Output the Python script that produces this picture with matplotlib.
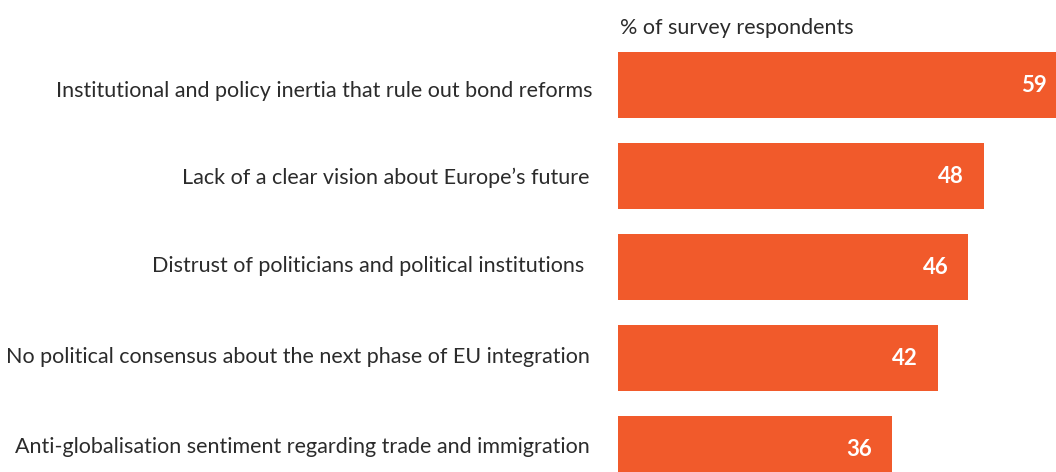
import matplotlib
matplotlib.use("Agg")
import matplotlib.pyplot as plt
from matplotlib.transforms import offset_copy

categories = [
    "Institutional and policy inertia that rule out bond reforms",
    "Lack of a clear vision about Europe\u2019s future",
    "Distrust of politicians and political institutions ",
    "No political consensus about the next phase of EU integration",
    "Anti-globalisation sentiment regarding trade and immigration",
]
values = [59, 48, 46, 42, 36]
title = "% of survey respondents"

BAR = "#F15A2B"
TEXT = "#2b2b2b"
FONT = ["Lato", "DejaVu Sans"]

W, H, DPI = 1056, 472, 100
fig = plt.figure(figsize=(W / DPI, H / DPI), dpi=DPI)

# axes in pixel terms: bars start at x=618, 7.615 px per percentage point
px_per_unit = 7.615
x0 = 618
ax_w = max(values) * px_per_unit
step = 91.0
bar_h = 66.0
top = 52.0
n = len(values)
ax_h = step * (n - 1) + bar_h
ax = fig.add_axes([x0 / W, (H - top - ax_h) / H, ax_w / W, ax_h / H])

pos = list(range(n))
ax.barh(pos, values, height=bar_h / step, color=BAR, edgecolor="none")
half = (bar_h / step) / 2
ax.set_xlim(0, max(values))
ax.set_ylim(n - 1 + half, -half)
ax.axis("off")

# per-row label placement (pixels): baseline drop below bar centre, gap to bar
label_drop = [11.7, 8.5, 4.7, 4.5, 4.2]
label_gap = [25, 29, 28, 28, 28]

pt_per_px = 72.0 / DPI
for p, v, c, d, g in zip(pos, values, categories, label_drop, label_gap):
    tv = offset_copy(ax.transData, fig=fig, x=-20 * pt_per_px,
                     y=-7 * pt_per_px, units="points")
    ax.text(v, p, str(v), ha="right", va="baseline", color="white",
            fontsize=16, fontweight="bold", family=FONT, transform=tv)
    tl = offset_copy(ax.transData, fig=fig, x=-g * pt_per_px,
                     y=-d * pt_per_px, units="points")
    ax.text(0, p, c, ha="right", va="baseline", color=TEXT,
            fontsize=15.5, family=FONT, clip_on=False, transform=tl)

fig.text(620 / W, 1 - 34.5 / H, title, ha="left", va="baseline", color=TEXT,
         fontsize=15.5, family=FONT)

fig.savefig("out.png", dpi=DPI)
